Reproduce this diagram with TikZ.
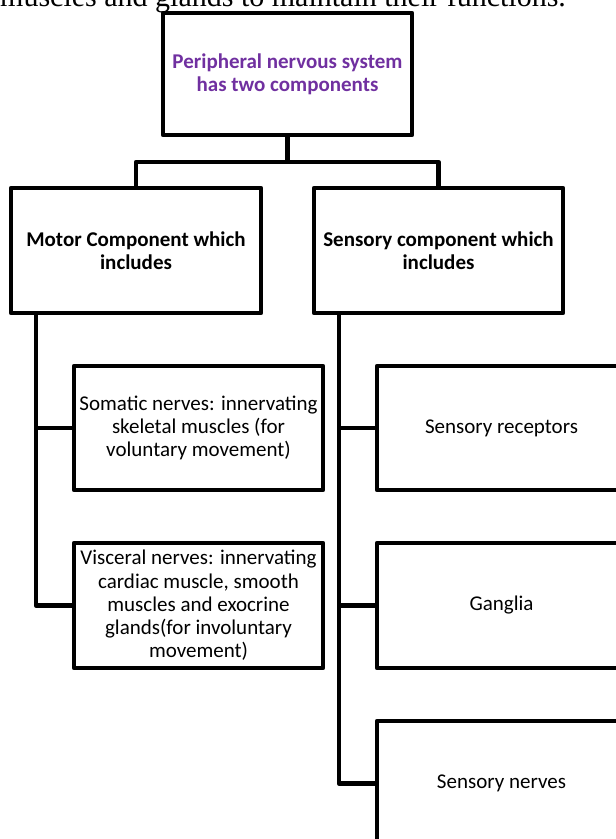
\documentclass[tikz,border=0pt]{standalone}
\usepackage{fontspec}
\setmainfont{Carlito}
\newfontfamily\timesfont{Liberation Serif}
\usepackage{tikz}
\usetikzlibrary{positioning,calc}
\definecolor{pnspurple}{HTML}{7030A0}

\begin{document}
\begin{tikzpicture}[x=1pt, y=-1pt,
    font=\fontsize{21}{23.3}\selectfont,
    box/.style={rectangle, draw=black, line width=4.5pt, line join=round, inner sep=0pt, outer sep=0pt,
                minimum width=249pt, minimum height=124pt, align=center},
    head/.style={box, font=\fontsize{21}{23.3}\selectfont\bfseries},
    link/.style={line width=4.5pt, line join=round},
  ]
  \useasboundingbox (0,0) rectangle (616,839);
  \clip (0,0) rectangle (616,839);
  % --- cut-off line of the text above ---
  \node[anchor=base west, inner sep=0pt, font=\timesfont\fontsize{30}{36}\selectfont] (intro) at (0,6)
    {muscles and glands to maintain their functions.};
  % --- top and second level ---
  \node[head, text=pnspurple, minimum height=122pt] (pns) at (287.5,74) {Peripheral nervous system\\has two components};
  \node[head, minimum width=250pt, minimum height=125pt] (motor) at (136,250.5) {Motor Component which\\includes};
  \node[head, minimum height=125pt] (sens) at (438.5,250.5) {Sensory component which\\includes};
  % --- motor branch ---
  \node[box] (som) at (198.5,428) {Somatic nerves: innervating\\skeletal muscles (for\\voluntary movement)};
  \node[box, minimum height=125pt] (visc) at (198.5,605.5)
    {Visceral nerves: innervating\\cardiac muscle, smooth\\muscles and exocrine\\glands(for involuntary\\movement)};
  % --- sensory branch (boxes run past the edge) ---
  \node[box] (srec) at (501.5,428) {Sensory receptors};
  \node[box, minimum height=125pt] (gang) at (501.5,605.5) {Ganglia};
  \node[box, minimum height=125pt] (snrv) at (501.5,783.5) {Sensory nerves};
  % --- connectors ---
  \draw[link] (pns.south) -- ++(0,27) -| (motor.north);
  \draw[link] (pns.south) ++(0,27) -| (sens.north);
  \foreach \t in {som,visc} \draw[link] ([xshift=25pt]motor.south west) |- (\t.west);
  \foreach \t in {srec,gang,snrv} \draw[link] ([xshift=25pt]sens.south west) |- (\t.west);
\end{tikzpicture}
\end{document}
